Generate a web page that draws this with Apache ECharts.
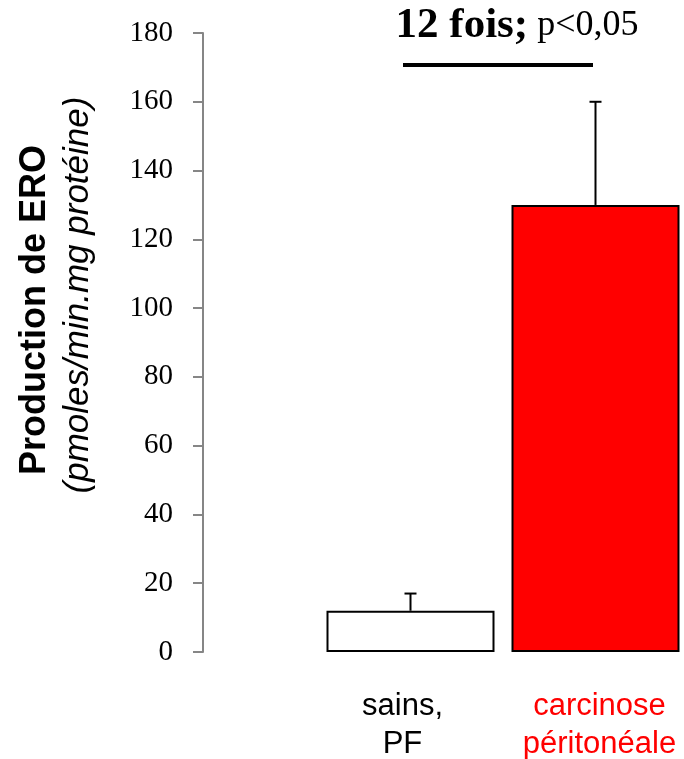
<!DOCTYPE html>
<html>
<head>
<meta charset="utf-8">
<script src="https://cdn.jsdelivr.net/npm/echarts@6/dist/echarts.min.js"></script>
<style>
html, body { margin: 0; padding: 0; background: #fff; }
#chart { width: 684px; height: 759px; }
</style>
</head>
<body>
<div id="chart"></div>
<script>
// Groups and their measured values
const categories = ['sains,\nPF', 'carcinose\npéritonéale'];
const means = [12, 130];
const upperErrors = [17, 160];
const barColors = ['#ffffff', '#ff0000'];
const labelColors = ['#000000', '#ff0000'];
const yTicks = { min: 0, max: 180, interval: 20 };

const chart = echarts.init(document.getElementById('chart'));

const option = {
  animation: false,
  backgroundColor: '#ffffff',
  grid: { left: 318, top: 33, width: 370, height: 619, containLabel: false, outerBoundsMode: 'none' },
  xAxis: {
    type: 'category',
    data: categories.map((c, i) => ({
      value: c,
      textStyle: { color: labelColors[i], padding: i === 0 ? [0, 16, 0, 0] : [0, 0, 0, 8] }
    })),
    axisLine: { show: false },
    axisTick: { show: false },
    axisLabel: {
      interval: 0,
      hideOverlap: false,
      margin: 35,
      fontFamily: 'Liberation Sans, Arial, sans-serif',
      fontSize: 31,
      lineHeight: 38
    }
  },
  yAxis: {
    type: 'value',
    min: yTicks.min,
    max: yTicks.max,
    interval: yTicks.interval,
    offset: 115,
    splitLine: { show: false },
    axisLine: { show: true, lineStyle: { color: '#868686', width: 2 } },
    axisTick: { show: true, length: 10, lineStyle: { color: '#868686', width: 2 } },
    axisLabel: {
      margin: 30,
      fontFamily: 'Liberation Serif, Times New Roman, serif',
      fontSize: 29,
      color: '#000'
    }
  },
  series: [
    {
      type: 'bar',
      barWidth: 168,
      data: means.map((v, i) => ({
        value: v,
        itemStyle: { color: barColors[i], borderColor: '#000', borderWidth: 2 }
      })),
      z: 2
    },
    {
      // upper error whiskers
      type: 'custom',
      z: 3,
      data: means.map((m, i) => [i, m, upperErrors[i]]),
      renderItem: function (params, api) {
        const base = api.coord([api.value(0), api.value(1)]);
        const top = api.coord([api.value(0), api.value(2)]);
        const half = 6;
        const style = { stroke: '#000', lineWidth: 2 };
        return {
          type: 'group',
          children: [
            { type: 'line', shape: { x1: base[0], y1: base[1], x2: top[0], y2: top[1] }, style: style },
            { type: 'line', shape: { x1: top[0] - half, y1: top[1], x2: top[0] + half, y2: top[1] }, style: style }
          ]
        };
      }
    }
  ],
  graphic: [
    {
      type: 'text',
      x: 517, y: 26,
      style: {
        text: '{b|12 fois;}{s| }{n|p<0,05}',
        align: 'center',
        verticalAlign: 'middle',
        rich: {
          b: { fontFamily: 'Liberation Serif, Times New Roman, serif', fontWeight: 'bold', fontSize: 43, fill: '#000' },
          s: { fontFamily: 'Liberation Serif, Times New Roman, serif', fontSize: 36, width: 9 },
          n: { fontFamily: 'Liberation Serif, Times New Roman, serif', fontSize: 36, fill: '#000' }
        }
      }
    },
    {
      type: 'line',
      shape: { x1: 403, y1: 65, x2: 593, y2: 65 },
      style: { stroke: '#000', lineWidth: 4 }
    },
    {
      type: 'text',
      x: 35, y: 310,
      rotation: Math.PI / 2,
      style: {
        text: 'Production de ERO',
        align: 'center',
        verticalAlign: 'middle',
        fontFamily: 'Liberation Sans, Arial, sans-serif',
        fontWeight: 'bold',
        fontSize: 36,
        fill: '#000'
      }
    },
    {
      type: 'text',
      x: 78, y: 295,
      rotation: Math.PI / 2,
      style: {
        text: '(pmoles/min.mg protéine)',
        align: 'center',
        verticalAlign: 'middle',
        fontFamily: 'Liberation Sans, Arial, sans-serif',
        fontStyle: 'italic',
        fontSize: 35,
        fill: '#000'
      }
    }
  ]
};

chart.setOption(option);
</script>
</body>
</html>
